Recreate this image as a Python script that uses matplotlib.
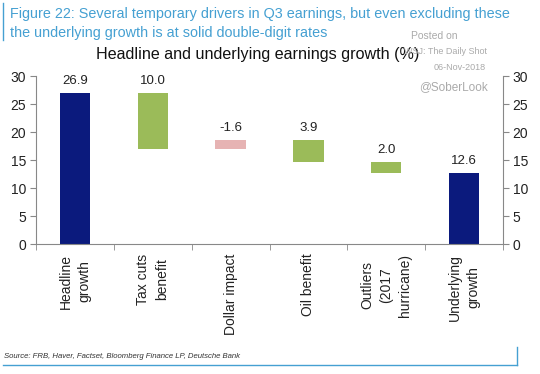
import matplotlib.pyplot as plt
from matplotlib.lines import Line2D

plt.rcParams['font.family'] = ['Liberation Sans', 'DejaVu Sans']

categories = ['Headline\ngrowth', 'Tax cuts\nbenefit', 'Dollar impact', 'Oil benefit',
              'Outliers\n(2017\nhurricane)', 'Underlying\ngrowth']
values = [26.9, 10.0, -1.6, 3.9, 2.0, 12.6]
labels = ['26.9', '10.0', '-1.6', '3.9', '2.0', '12.6']
kinds = ['total', 'step', 'step', 'step', 'step', 'total']

navy = '#0b1a7d'
green = '#9bbb59'
pink = '#e6b3b3'
blue = '#45a0d2'

# waterfall: steps are subtracted from the running level
bottoms, heights, colors = [], [], []
level = 0
for v, k in zip(values, kinds):
    if k == 'total':
        bottoms.append(0)
        heights.append(v)
        colors.append(navy)
        level = v
    else:
        new = level - v
        bottoms.append(min(level, new))
        heights.append(abs(v))
        colors.append(green if v > 0 else pink)
        level = new

fig = plt.figure(figsize=(5.4, 3.74), dpi=100)
ax = fig.add_axes([36/540, 130/374, 467/540, 168/374])

x = list(range(len(categories)))
ax.bar(x, heights, bottom=bottoms, width=0.39, color=colors, edgecolor='none')
for xi, b, h, t in zip(x, bottoms, heights, labels):
    ax.text(xi, b + h + 1.2, t, ha='center', va='bottom', fontsize=9.5, color='#222222')

ax.set_xlim(-0.5, len(categories) - 0.5)
ax.set_ylim(0, 30)
ax.set_yticks(range(0, 31, 5))
ax.tick_params(axis='y', labelsize=10, colors='#888888', labelcolor='#222222',
               length=4, right=True, labelright=True, pad=3)
ax.set_xticks(x)
ax.set_xticklabels(categories, rotation=90, fontsize=10, color='#222222',
                   ha='center', va='top', multialignment='center', linespacing=1.45)
ax.set_xticks([i + 0.5 for i in range(-1, len(categories))], minor=True)
ax.tick_params(axis='x', which='major', length=0, pad=7)
ax.tick_params(axis='x', which='minor', length=4, colors='#888888')
for s in ['left', 'right', 'bottom']:
    ax.spines[s].set_color('#888888')
ax.spines['top'].set_visible(False)

fig.text(258/540, 1 - 55/374, 'Headline and underlying earnings growth (%)',
         ha='center', va='center', fontsize=11.6, color='#111111')

fig.text(10/540, 1 - 14/374,
         'Figure 22: Several temporary drivers in Q3 earnings, but even excluding these',
         ha='left', va='center', fontsize=10.4, color=blue)
fig.text(10/540, 1 - 33/374,
         'the underlying growth is at solid double-digit rates',
         ha='left', va='center', fontsize=10.4, color=blue)

fig.text(434/540, 1 - 36/374, 'Posted on', ha='center', va='center', fontsize=7.5, color='#aaaaaa')
fig.text(445/540, 1 - 52/374, 'WSJ: The Daily Shot', ha='center', va='center', fontsize=6.5, color='#aaaaaa')
fig.text(460/540, 1 - 67/374, '06-Nov-2018', ha='center', va='center', fontsize=6.5, color='#aaaaaa')
fig.text(454/540, 1 - 87/374, '@SoberLook', ha='center', va='center', fontsize=8.5, color='#aaaaaa')

fig.text(4/540, 1 - 356/374,
         'Source: FRB, Haver, Factset, Bloomberg Finance LP, Deutsche Bank',
         ha='left', va='center', fontsize=5.6, style='italic', color='#333333')

# frame lines
fig.add_artist(Line2D([3/540, 3/540], [1 - 3/374, 1 - 40/374], color=blue, lw=1))
fig.add_artist(Line2D([3/540, 517/540], [1 - 365/374, 1 - 365/374], color=blue, lw=1))
fig.add_artist(Line2D([517/540, 517/540], [1 - 365/374, 1 - 347/374], color=blue, lw=1))

fig.savefig('out.png', dpi=100, facecolor='white')
